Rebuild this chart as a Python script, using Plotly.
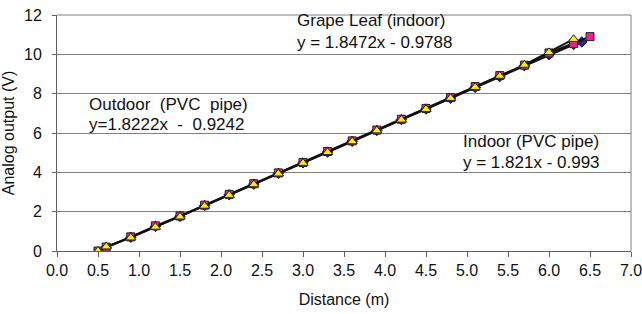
import plotly.graph_objects as go

# Grape leaf (indoor) - pink squares
grape_x = [0.5, 0.6, 0.9, 1.2, 1.5, 1.8, 2.1, 2.4, 2.7, 3.0, 3.3, 3.6, 3.9, 4.2, 4.5, 4.8, 5.1, 5.4, 5.7, 6.0, 6.3, 6.5]
grape_y = [0.0, 0.2, 0.72, 1.28, 1.78, 2.33, 2.88, 3.42, 3.97, 4.5, 5.06, 5.6, 6.15, 6.7, 7.25, 7.8, 8.36, 8.92, 9.45, 10.07, 10.55, 10.9]

# Indoor (PVC pipe) - navy diamonds
indoor_x = [0.6, 0.9, 1.2, 1.5, 1.8, 2.1, 2.4, 2.7, 3.0, 3.3, 3.6, 3.9, 4.2, 4.5, 4.8, 5.1, 5.4, 5.7, 6.0, 6.3, 6.4]
indoor_y = [0.18, 0.7, 1.25, 1.76, 2.31, 2.86, 3.4, 3.95, 4.48, 5.03, 5.58, 6.13, 6.68, 7.22, 7.77, 8.32, 8.87, 9.42, 9.98, 10.5, 10.63]

# Outdoor (PVC pipe) - yellow triangles
outdoor_x = [0.5, 0.6, 0.9, 1.2, 1.5, 1.8, 2.1, 2.4, 2.7, 3.0, 3.3, 3.6, 3.9, 4.2, 4.5, 4.8, 5.1, 5.4, 5.7, 6.0, 6.3]
outdoor_y = [0.0, 0.22, 0.68, 1.22, 1.74, 2.29, 2.84, 3.38, 3.93, 4.47, 5.02, 5.57, 6.12, 6.67, 7.21, 7.77, 8.33, 8.9, 9.46, 10.1, 10.77]

x_ticks = [0.0, 0.5, 1.0, 1.5, 2.0, 2.5, 3.0, 3.5, 4.0, 4.5, 5.0, 5.5, 6.0, 6.5, 7.0]
y_ticks = [0, 2, 4, 6, 8, 10, 12]

fig = go.Figure()
fig.add_trace(go.Scatter(x=indoor_x, y=indoor_y, mode="lines+markers",
                         line=dict(color="#111111", width=2),
                         marker=dict(symbol="diamond", size=8, color="#2B2B8C",
                                     line=dict(color="#111111", width=1))))
fig.add_trace(go.Scatter(x=grape_x, y=grape_y, mode="lines+markers",
                         line=dict(color="#111111", width=2),
                         marker=dict(symbol="square", size=8, color="#E8248C",
                                     line=dict(color="#222222", width=1))))
fig.add_trace(go.Scatter(x=outdoor_x, y=outdoor_y, mode="lines+markers",
                         line=dict(color="#111111", width=2),
                         marker=dict(symbol="triangle-up", size=9, color="#FFEE00",
                                     line=dict(color="#222222", width=1))))

font = "Liberation Sans, Arial, sans-serif"
ann = dict(xref="x", yref="y", xanchor="left", yanchor="middle", showarrow=False,
           font=dict(family=font, size=17, color="#111111"))
fig.add_annotation(x=2.9, y=11.72, text="Grape Leaf (indoor)", **ann)
fig.add_annotation(x=2.9, y=10.62, text="y = 1.8472x - 0.9788", **ann)
fig.add_annotation(x=0.37, y=7.45, text="Outdoor  (PVC  pipe)", **ann)
fig.add_annotation(x=0.37, y=6.42, text="y=1.8222x  -  0.9242", **ann)
fig.add_annotation(x=4.93, y=5.57, text="Indoor (PVC pipe)", **ann)
fig.add_annotation(x=4.93, y=4.5, text="y = 1.821x - 0.993", **ann)

fig.update_layout(
    width=642, height=314,
    margin=dict(l=57, r=11, t=15, b=63, autoexpand=False),
    paper_bgcolor="white", plot_bgcolor="white",
    showlegend=False,
    font=dict(family=font, size=16, color="#111111"),
    shapes=[dict(type="line", xref="paper", yref="paper", x0=1, x1=1, y0=0, y1=1,
                 line=dict(color="#808080", width=1)),
            dict(type="line", xref="paper", yref="paper", x0=0, x1=1, y0=1, y1=1,
                 line=dict(color="#808080", width=1))],
)
fig.update_xaxes(range=[0, 7], tickvals=x_ticks, ticktext=[f"{v:.1f}" for v in x_ticks],
                 showgrid=False, zeroline=False, showline=True, linecolor="#606060", linewidth=1,
                 ticks="outside", ticklen=5, tickcolor="#606060", automargin=False,
                 ticklabeloverflow="allow", tickfont=dict(size=16),
                 title=dict(text="Distance (m)", standoff=15, font=dict(size=16)))
fig.update_yaxes(range=[0, 12], tickvals=y_ticks, showgrid=True, gridcolor="#808080", gridwidth=1,
                 zeroline=False, showline=True, linecolor="#606060", linewidth=1,
                 ticks="outside", ticklen=4, tickcolor="#606060", automargin=False,
                 ticklabeloverflow="allow", ticklabelstandoff=7, tickfont=dict(size=16),
                 title=dict(text="Analog output (V)", standoff=11, font=dict(size=16)))

fig.write_html("out.html", config={"displayModeBar": False},
               post_script="document.body.style.margin='0';document.body.style.overflow='hidden';")
